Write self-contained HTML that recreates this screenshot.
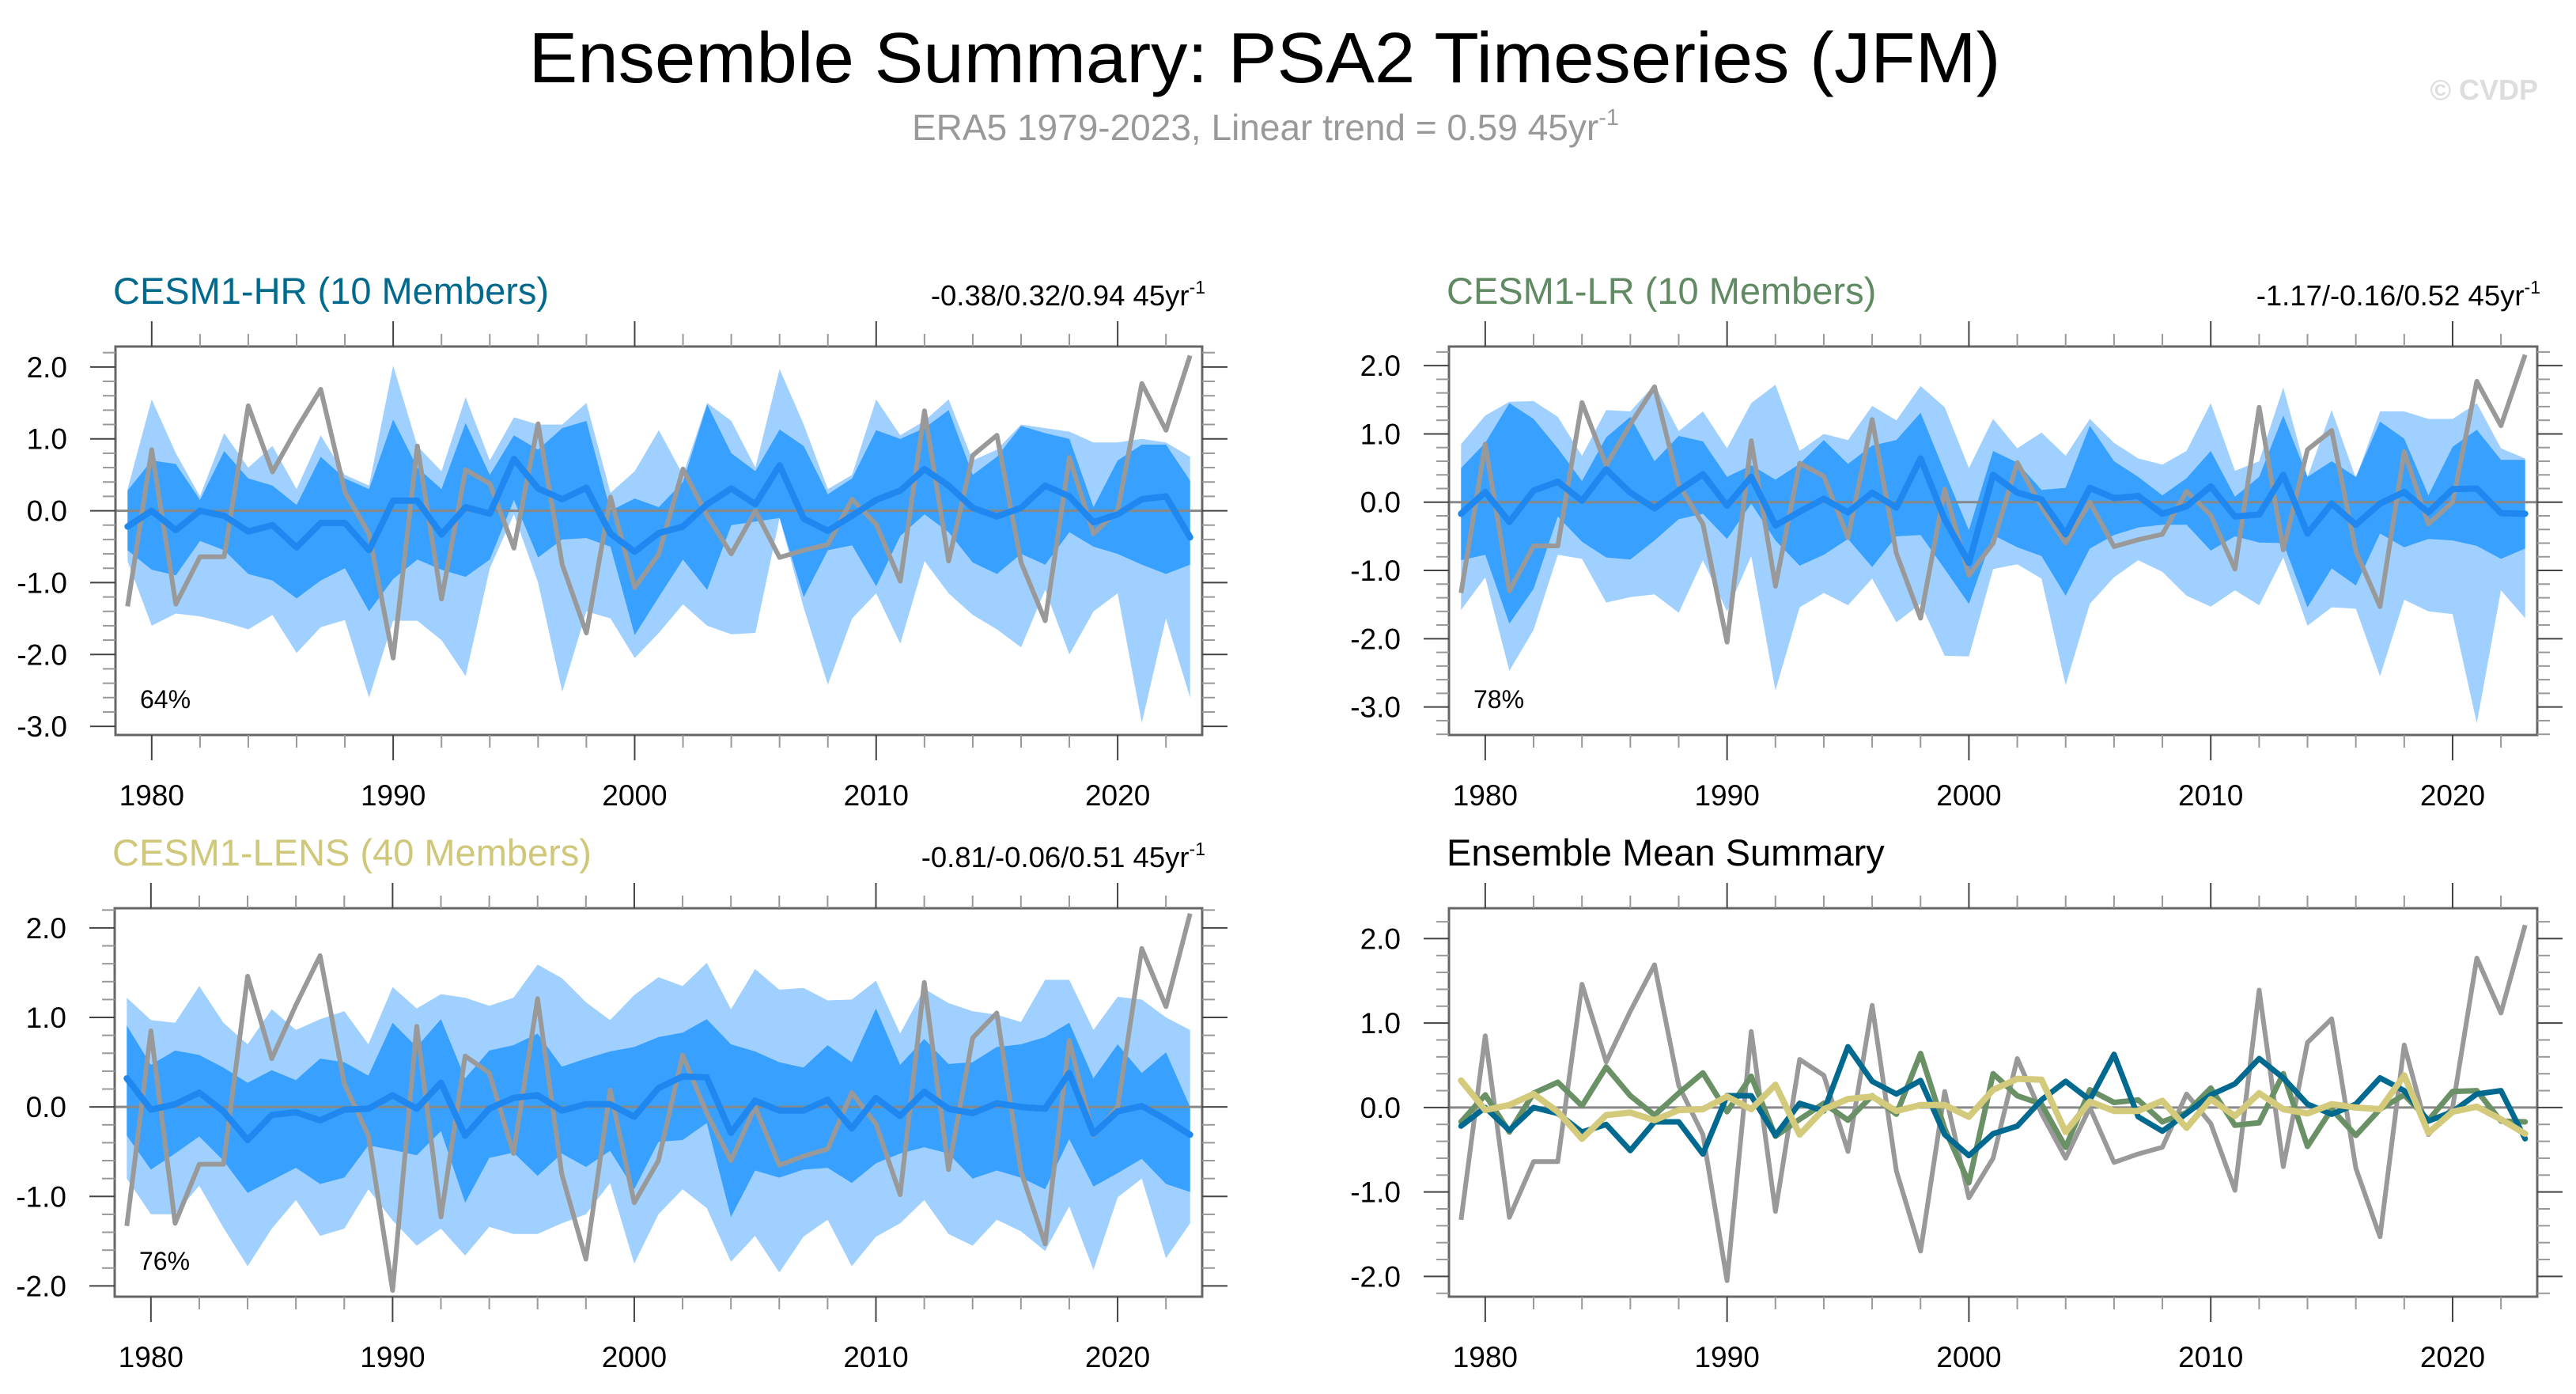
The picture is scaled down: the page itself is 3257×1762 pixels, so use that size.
<!DOCTYPE html>
<html><head><meta charset="utf-8">
<style>
html,body{margin:0;padding:0;background:#fff;}
svg{display:block;font-family:"Liberation Sans",sans-serif;}
</style></head>
<body>
<svg id="chart" width="3257" height="1762" viewBox="0 0 3257 1762" xmlns="http://www.w3.org/2000/svg">
<rect width="3257" height="1762" fill="#fff"/>
<text x="1599" y="104" font-size="90" text-anchor="middle" fill="#000" textLength="1861" lengthAdjust="spacingAndGlyphs">Ensemble Summary: PSA2 Timeseries (JFM)</text>
<text x="1153" y="177" font-size="46" fill="#999">ERA5 1979-2023, Linear trend = 0.59 45yr<tspan font-size="29" dy="-19">-1</tspan></text>
<text x="3209" y="126" font-size="36" font-weight="bold" fill="#ddd" text-anchor="end">© CVDP</text>
<g id="panels"></g>
</svg>
<script>
const years = [];
for (let y = 1979; y <= 2023; y++) years.push(y);
const era5 = [-1.33,0.85,-1.30,-0.64,-0.64,1.46,0.54,1.14,1.69,0.26,-0.32,-2.05,0.90,-1.23,0.57,0.38,-0.52,1.21,-0.75,-1.70,0.19,-1.07,-0.60,0.58,-0.07,-0.60,0.0,-0.65,-0.55,-0.47,0.16,-0.19,-0.98,1.39,-0.70,0.77,1.05,-0.72,-1.53,0.74,-0.32,0.0,1.77,1.12,2.16];

const hrMean = [-0.22,0,-0.27,0,-0.07,-0.29,-0.2,-0.51,-0.17,-0.17,-0.55,0.14,0.14,-0.33,0.05,-0.04,0.72,0.31,0.16,0.32,-0.32,-0.57,-0.31,-0.22,0.09,0.31,0.09,0.63,-0.11,-0.28,-0.07,0.15,0.28,0.58,0.35,0.04,-0.08,0.04,0.35,0.2,-0.16,-0.05,0.16,0.2,-0.37];
const hrHi90 = [0.3,1.55,0.8,0.2,1.08,0.6,0.9,0.3,1.05,0.5,0.35,2.02,0.9,0.55,1.58,0.7,1.3,1.2,1.2,1.5,0.25,0.55,1.12,0.5,1.5,1.25,0.6,1.97,1.2,0.3,0.5,1.55,1.05,1.25,1.55,0.7,0.85,1.2,1.15,1.1,0.95,0.95,1.0,0.95,0.75];
const hrHi75 = [0.28,0.7,0.65,0.15,0.83,0.45,0.35,0.08,0.75,0.45,0.3,1.27,0.6,0.3,1.22,0.5,1.05,0.85,1.15,1.25,0.0,0.17,0.05,0.4,1.48,0.8,0.55,1.13,0.9,0.23,0.45,1.12,1.0,1.15,1.4,0.5,0.75,1.18,1.08,1.0,0.05,0.7,0.92,0.92,0.42];
const hrLo25 = [-0.55,-0.82,-0.9,-0.42,-0.55,-0.88,-0.97,-1.22,-0.97,-0.8,-1.4,-0.95,-0.68,-0.82,-0.92,-0.68,0.15,-0.65,-0.4,-0.38,-0.5,-1.73,-1.2,-0.68,-1.1,-0.2,-0.15,-0.1,-1.2,-0.55,-0.48,-1.05,-0.35,-0.05,-0.3,-0.72,-0.88,-0.6,-0.75,-0.3,-0.5,-0.6,-0.75,-0.88,-0.75];
const hrLo10 = [-0.7,-1.6,-1.43,-1.47,-1.55,-1.65,-1.45,-1.98,-1.62,-1.52,-2.6,-1.53,-1.53,-1.8,-2.3,-0.8,-0.05,-1.0,-2.52,-1.4,-1.5,-2.05,-1.7,-1.3,-1.6,-1.72,-1.7,-0.1,-1.35,-2.42,-1.5,-1.15,-1.85,-0.7,-1.15,-1.45,-1.65,-1.9,-1.1,-2.0,-1.4,-1.15,-2.95,-1.5,-2.6];

const lrMean = [-0.17,0.15,-0.29,0.17,0.30,0.02,0.48,0.14,-0.09,0.17,0.41,-0.05,0.37,-0.34,-0.14,0.05,-0.15,0.14,-0.08,0.64,-0.25,-0.89,0.40,0.14,0.04,-0.47,0.21,0.06,0.09,-0.17,-0.06,0.23,-0.21,-0.18,0.40,-0.46,-0.02,-0.33,-0.02,0.15,-0.15,0.19,0.20,-0.16,-0.17];
const lrHi90 = [0.85,1.27,1.47,1.48,1.25,0.68,1.35,1.33,1.72,1.04,1.33,0.79,1.45,1.72,0.75,1.0,0.91,1.41,1.2,1.7,1.39,0.5,1.22,0.79,1.02,0.68,1.22,0.87,0.64,0.55,0.75,1.45,0.46,0.6,1.68,0.37,1.35,0.35,1.33,1.33,1.22,1.22,1.45,0.79,0.64];
const lrHi75 = [0.5,0.87,1.45,1.22,0.79,0.31,0.95,1.25,0.6,0.97,0.89,0.37,0.54,0.33,0.56,0.91,0.56,0.83,0.91,1.31,0.44,-0.41,0.75,0.58,0.18,0.21,1.12,0.6,0.37,0.1,0.35,0.75,0.08,0.37,1.27,0.37,0.6,0.37,1.18,0.93,0.1,0.81,1.06,0.62,0.62];
const lrLo25 = [-0.85,-0.77,-1.78,-1.27,-0.21,-0.58,-0.81,-0.84,-0.56,-0.25,-0.17,-0.54,-0.02,-0.56,-0.93,-0.77,-0.54,-0.95,-0.5,-0.48,-0.98,-1.49,-0.48,-0.66,-0.79,-1.37,-0.68,-0.48,-0.37,-0.33,-0.33,-0.71,-0.5,-0.59,-0.6,-1.54,-0.97,-1.22,-0.46,-0.66,-0.54,-0.56,-0.64,-0.83,-0.68];
const lrLo10 = [-1.58,-1.10,-2.47,-1.87,-0.77,-0.83,-1.47,-1.39,-1.35,-1.62,-0.85,-1.6,-0.79,-2.76,-1.54,-1.33,-1.51,-1.12,-1.76,-1.49,-2.25,-2.26,-0.98,-0.91,-1.12,-2.68,-1.49,-1.10,-0.85,-1.02,-1.37,-1.53,-1.29,-1.51,-0.81,-1.81,-1.54,-1.56,-2.55,-1.43,-1.60,-1.64,-3.24,-1.29,-1.70];

const lensMean = [0.32,-0.03,0.03,0.16,-0.05,-0.37,-0.09,-0.06,-0.15,-0.03,-0.02,0.13,-0.02,0.27,-0.32,-0.02,0.1,0.13,-0.04,0.03,0.03,-0.11,0.21,0.34,0.33,-0.29,0.07,-0.04,-0.04,0.08,-0.24,0.1,-0.1,0.17,-0.02,-0.07,0.04,0,-0.02,0.38,-0.3,-0.05,0.01,-0.14,-0.31];
const lensHi90 = [1.22,0.97,0.94,1.35,0.94,0.70,1.09,0.86,0.98,1.07,0.70,1.34,1.10,1.26,1.22,1.13,1.22,1.59,1.44,1.17,0.97,1.25,1.45,1.35,1.61,1.09,1.54,1.31,1.33,1.19,1.20,1.41,0.82,1.32,1.16,1.07,1.03,0.95,1.42,1.42,0.86,1.23,1.20,1.0,0.86];
const lensHi75 = [0.91,0.47,0.63,0.58,0.44,0.27,0.41,0.30,0.54,0.5,0.35,0.94,0.67,0.98,0.32,0.63,0.69,0.82,0.45,0.54,0.62,0.67,0.78,0.83,0.98,0.70,0.62,0.50,0.44,0.69,0.50,1.10,0.47,0.76,0.48,0.5,0.67,0.70,0.78,0.94,0.32,0.70,0.38,0.61,0.0];
const lensLo25 = [-0.32,-0.70,-0.52,-0.33,-0.60,-0.96,-0.82,-0.68,-0.86,-0.79,-0.43,-0.48,-0.54,-0.27,-1.07,-0.57,-0.51,-0.77,-0.52,-0.67,-0.49,-0.92,-0.39,-0.37,-0.18,-1.23,-0.71,-0.79,-0.70,-0.68,-0.85,-0.63,-0.52,-0.45,-0.52,-0.80,-0.71,-0.79,-0.92,-0.36,-0.89,-0.74,-0.58,-0.86,-0.95];
const lensLo10 = [-0.80,-1.20,-1.20,-0.88,-1.35,-1.78,-1.36,-1.04,-1.44,-1.36,-0.92,-1.27,-1.55,-1.36,-1.66,-1.34,-1.42,-1.42,-1.30,-1.20,-0.85,-1.75,-1.20,-0.92,-1.13,-1.73,-1.44,-1.85,-1.45,-1.26,-1.78,-1.45,-1.30,-1.04,-1.42,-1.55,-1.26,-1.39,-1.61,-1.11,-1.82,-1.01,-0.80,-1.69,-1.30];

const xTickLabels = [1980,1990,2000,2010,2020];
const yTicksA = [-3,-2,-1,0,1,2];
const yTicksB = [-2,-1,0,1,2];

const NS = "http://www.w3.org/2000/svg";
const root = document.getElementById("panels");
function mk(tag, attrs, parent) {
  const e = document.createElementNS(NS, tag);
  for (const k in attrs) e.setAttribute(k, attrs[k]);
  (parent || root).appendChild(e);
  return e;
}

function panel(cfg) {
  const g = mk("g", {});
  
  
  const {x0, x1, y0, y1, vmin, vmax} = cfg;
  const X = yr => x0 + (yr - 1978.5) / 45 * (x1 - x0);
  const Y = v => y1 - (v - vmin) / (vmax - vmin) * (y1 - y0);
  const line = (arr) => arr.map((v, i) => (i ? "L" : "M") + X(years[i]).toFixed(1) + "," + Y(v).toFixed(1)).join("");
  const band = (hi, lo) => line(hi) + lo.slice().reverse().map((v, j) => {
    const i = lo.length - 1 - j; return "L" + X(years[i]).toFixed(1) + "," + Y(v).toFixed(1);
  }).join("") + "Z";

  if (cfg.bands) {
    const b1 = mk("path", {d: band(cfg.bands[0], cfg.bands[3]), fill: "#a0d0ff"}, g);
    
    
    const b2 = mk("path", {d: band(cfg.bands[1], cfg.bands[2]), fill: "#38a0ff"}, g);
    
    
  }
  const z = mk("line", {x1: x0, x2: x1, y1: Y(0), y2: Y(0), stroke: "#888", "stroke-width": 3}, g);
  
  

  const ob = mk("path", {d: line(era5), fill: "none", stroke: "#999", "stroke-width": 6, "stroke-linejoin": "round"}, g);
  
  
  cfg.lines.forEach(l => {
    const p = mk("path", {d: line(l.data), fill: "none", stroke: l.color, "stroke-width": l.w, "stroke-linejoin": "round", "stroke-linecap": "round"}, g);
    
    
  });

  const box = mk("rect", {x: x0, y: y0, width: x1 - x0, height: y1 - y0, fill: "none", stroke: "#666", "stroke-width": 3}, g);
  
  

  for (let yr = 1980; yr <= 2022; yr += 2) {
    const maj = yr % 10 === 0, L = maj ? 32 : 16;
    mk("line", {x1: X(yr), x2: X(yr), y1: y0, y2: y0 - L, stroke: maj ? "#444" : "#999", "stroke-width": 2}, g);
    mk("line", {x1: X(yr), x2: X(yr), y1: y1, y2: y1 + L, stroke: maj ? "#444" : "#999", "stroke-width": 2}, g);
  }
  xTickLabels.forEach(t => {
    const tx = mk("text", {x: X(t), y: y1 + 89, "font-size": 37, "text-anchor": "middle", fill: "#000"}, g);
    tx.textContent = t;
    
    
  });
  const lo = Math.ceil(vmin * 5), hi = Math.floor(vmax * 5);
  for (let k = lo; k <= hi; k++) {
    const maj = k % 5 === 0, L = maj ? 32 : 16, yy = Y(k / 5);
    mk("line", {x1: x0, x2: x0 - L, y1: yy, y2: yy, stroke: maj ? "#444" : "#999", "stroke-width": 2}, g);
    mk("line", {x1: x1, x2: x1 + L, y1: yy, y2: yy, stroke: maj ? "#444" : "#999", "stroke-width": 2}, g);
  }
  cfg.yticks.forEach(t => {
    const tx = mk("text", {x: x0 - 61, y: Y(t) + 13, "font-size": 37, "text-anchor": "end", fill: "#000"}, g);
    tx.textContent = t.toFixed(1);
    
    
  });
  const ti = mk("text", {x: x0 - 3, y: y0 - 54, "font-size": 47, fill: cfg.titleColor}, g);
  ti.textContent = cfg.title;
  
  
  if (cfg.trend) {
    const tr = mk("text", {x: x1 + 4, y: y0 - 52, "font-size": 36.5, "text-anchor": "end", fill: "#000"}, g);
    tr.textContent = cfg.trend;
    const sup = mk("tspan", {"font-size": 23, dy: -15}, tr);
    sup.textContent = "-1";
    
    
  }
  if (cfg.pct) {
    const pc = mk("text", {x: x0 + 31, y: y1 - 34, "font-size": 32, fill: "#000"}, g);
    pc.textContent = cfg.pct;
    
    
  }
}

const blueLine = c => ({name: "ensemble-mean-line", color: "#1e88f0", w: 8, data: c});
panel({name: "panel-cesm1-hr", x0: 146, x1: 1520, y0: 438, y1: 929, vmin: -3.12, vmax: 2.285, yticks: yTicksA,
  title: "CESM1-HR (10 Members)", titleColor: "#006a8e", trend: "-0.38/0.32/0.94 45yr", pct: "64%",
  bands: [hrHi90, hrHi75, hrLo25, hrLo10], lines: [blueLine(hrMean)]});
panel({name: "panel-cesm1-lr", x0: 1832, x1: 3208, y0: 438, y1: 929, vmin: -3.41, vmax: 2.28, yticks: yTicksA,
  title: "CESM1-LR (10 Members)", titleColor: "#5f8a62", trend: "-1.17/-0.16/0.52 45yr", pct: "78%",
  bands: [lrHi90, lrHi75, lrLo25, lrLo10], lines: [blueLine(lrMean)]});
panel({name: "panel-cesm1-lens", x0: 145, x1: 1520, y0: 1148, y1: 1639, vmin: -2.12, vmax: 2.22, yticks: yTicksB,
  title: "CESM1-LENS (40 Members)", titleColor: "#cfc77a", trend: "-0.81/-0.06/0.51 45yr", pct: "76%",
  bands: [lensHi90, lensHi75, lensLo25, lensLo10], lines: [blueLine(lensMean)]});
panel({name: "panel-ensemble-mean-summary", x0: 1832, x1: 3208, y0: 1148, y1: 1639, vmin: -2.24, vmax: 2.36, yticks: yTicksB,
  title: "Ensemble Mean Summary", titleColor: "#000", trend: null, pct: null, bands: null,
  lines: [
    {name: "cesm1-lr-mean-line", color: "#6a9066", w: 7, data: lrMean},
    {name: "cesm1-hr-mean-line", color: "#00698f", w: 7, data: hrMean},
    {name: "cesm1-lens-mean-line", color: "#d4ca7c", w: 8, data: lensMean}
  ]});
</script>
</body></html>
